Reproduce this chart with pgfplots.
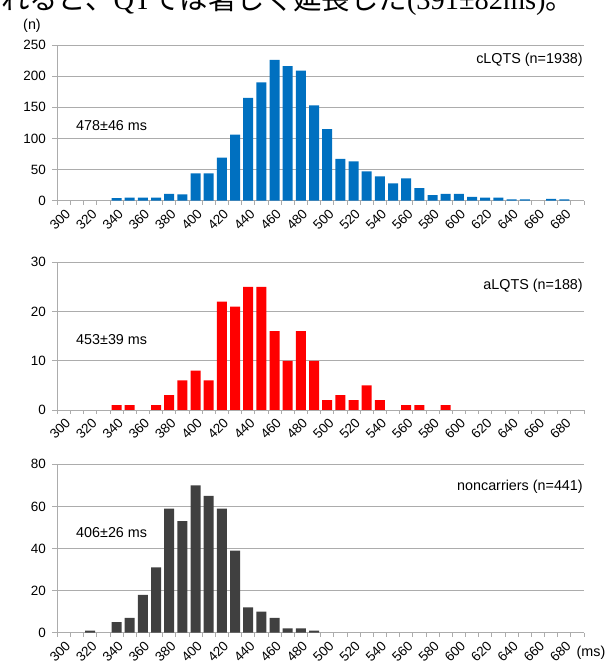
\documentclass[border=0pt]{standalone}
\usepackage{fontspec}
\setmainfont{Liberation Sans}
\newfontfamily\jpfont{Noto Sans CJK JP}
\newfontfamily\latinserif{Liberation Serif}
\usepackage{pgfplots}
\usepackage{pgfplotstable}
\pgfplotsset{compat=1.18}

\definecolor{barblue}{RGB}{0,112,192}
\definecolor{barred}{RGB}{255,0,0}
\definecolor{bargray}{RGB}{64,64,64}
\definecolor{gridgray}{RGB}{172,172,172}

\newcommand\ticksize{\fontsize{13.5}{15}\selectfont}
\newcommand\labsize{\fontsize{14.4}{17}\selectfont}

% QT interval histograms, 10 ms bins (bin start in ms, count)
\pgfplotstableread{
ms n
340 4
350 5
360 5
370 5
380 11
390 10
400 44
410 44
420 69
430 106
440 165
450 190
460 226
470 216
480 209
490 153
500 115
510 67
520 63
530 47
540 39
550 28
560 36
570 20
580 9
590 11
600 11
610 6
620 5
630 5
640 2
650 2
670 3
680 2
}\cLQTS

\pgfplotstableread{
ms n
340 1
350 1
370 1
380 3
390 6
400 8
410 6
420 22
430 21
440 25
450 25
460 16
470 10
480 16
490 10
500 2
510 3
520 2
530 5
540 2
560 1
570 1
590 1
}\aLQTS

\pgfplotstableread{
ms n
320 1
340 5
350 7
360 18
370 31
380 59
390 53
400 70
410 65
420 59
430 39
440 12
450 10
460 7
470 2
480 2
490 1
}\noncarriers

\pgfplotsset{
  histo/.style={
    scale only axis,
    width=526.7bp,
    anchor=south west,
    xmin=295, xmax=695,
    ymin=0,
    axis x line*=bottom,
    axis y line*=left,
    axis line style={gridgray, line width=0.9bp},
    ymajorgrids,
    grid style={gridgray, line width=0.9bp},
    xtick={300,320,...,680},
    minor xtick={295,305,...,695},
    tick align=outside,
    major tick length=5bp,
    minor tick length=4bp,
    major x tick style={draw=none},
    minor x tick style={gridgray, line width=0.9bp},
    major y tick style={gridgray, line width=0.9bp},
    /pgf/number format/assume math mode=true,
    /pgf/number format/1000 sep={},
    tick label style={font=\ticksize, text=black},
    xticklabel style={rotate=45, anchor=north east, inner sep=1bp, yshift=-1bp},
    yticklabel style={anchor=east, xshift=-3bp},
    ybar,
    bar width=10bp,
    bar shift=0pt,
    clip=false,
  }
}

\begin{document}
\begin{tikzpicture}

% cLQTS
\begin{axis}[histo, at={(57.3bp,462.3bp)}, height=155.7bp,
    ymax=250, ytick={0,50,...,250}]
  \addplot[fill=barblue, draw=none] table[x=ms, y=n] {\cLQTS};
  \node[anchor=east, font=\labsize, inner sep=0] at (rel axis cs:0.998,0.902) {cLQTS (n=1938)};
  \node[anchor=west, font=\labsize, inner sep=0] at (rel axis cs:0.0355,0.48) {478±46 ms};
\end{axis}

% aLQTS
\begin{axis}[histo, at={(57.3bp,253bp)}, height=147.7bp,
    ymax=30, ytick={0,10,...,30}]
  \addplot[fill=barred, draw=none] table[x=ms, y=n] {\aLQTS};
  \node[anchor=east, font=\labsize, inner sep=0] at (rel axis cs:0.998,0.84) {aLQTS (n=188)};
  \node[anchor=west, font=\labsize, inner sep=0] at (rel axis cs:0.0355,0.474) {453±39 ms};
\end{axis}

% noncarriers
\begin{axis}[histo, at={(57.3bp,30.3bp)}, height=168.4bp,
    ymax=80, ytick={0,20,...,80}]
  \addplot[fill=bargray, draw=none] table[x=ms, y=n] {\noncarriers};
  \node[anchor=east, font=\labsize, inner sep=0] at (rel axis cs:0.998,0.865) {noncarriers (n=441)};
  \node[anchor=west, font=\labsize, inner sep=0] at (rel axis cs:0.0355,0.594) {406±26 ms};
\end{axis}

% axis units
\node[font=\labsize, inner sep=0] at (32bp,637bp) {(n)};
\node[font=\labsize, inner sep=0] at (591bp,10bp) {(ms)};

% running text line above the figure
\node[anchor=base west, inner sep=0, font=\fontsize{28.5}{31}\selectfont] at (1bp,653.5bp)
  {\jpfont れると、\latinserif QT\jpfont では著しく延長した\latinserif (391±82ms)\jpfont 。};

\pgfresetboundingbox
\path[use as bounding box] (0,0) rectangle (613bp,663bp);
\end{tikzpicture}
\end{document}
